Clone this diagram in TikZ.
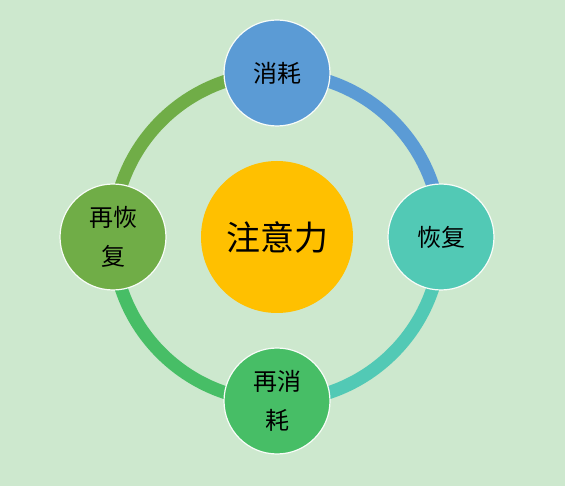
\documentclass[tikz,border=0pt]{standalone}
\usepackage{fontspec}
\newfontfamily\cjk{Noto Sans CJK SC}
\definecolor{bg}{HTML}{CDE8CE}
\definecolor{cblue}{HTML}{5B9BD5}
\definecolor{cteal}{HTML}{52C9B5}
\definecolor{cgreen}{HTML}{47BE66}
\definecolor{colive}{HTML}{70AD47}
\definecolor{cyellow}{HTML}{FFC000}
\tikzset{
  ringarc/.style={line width=13pt},
  bubble/.style={circle, draw=white!85!bg, line width=1.2pt, minimum size=106pt, inner sep=0pt, align=center, font=\cjk\fontsize{24}{39}\selectfont, text=black},
}
\begin{document}
\begin{tikzpicture}[x=1pt,y=-1pt]
\fill[bg] (0,0) rectangle (565,486);
\useasboundingbox (0,0) rectangle (565,486);
\coordinate (c) at (277,237);
\draw[ringarc, cblue] (277,73) arc[start angle=-90, end angle=0, radius=164];
\draw[ringarc, cteal] (441,237) arc[start angle=0, end angle=90, radius=164];
\draw[ringarc, cgreen] (277,401) arc[start angle=90, end angle=180, radius=164];
\draw[ringarc, colive] (113,237) arc[start angle=180, end angle=270, radius=164];
\node[circle, fill=cyellow, minimum size=152pt, inner sep=0pt, font=\cjk\fontsize{34}{40}\selectfont] (center) at (c) {注意力};
\node[bubble, fill=cblue] (top) at (277,73) {消耗};
\node[bubble, fill=cteal] (right) at (441,237) {恢复};
\node[bubble, fill=cgreen] (bottom) at (277,401) {再消\\耗};
\node[bubble, fill=colive] (left) at (113,237) {再恢\\复};
\end{tikzpicture}
\end{document}
